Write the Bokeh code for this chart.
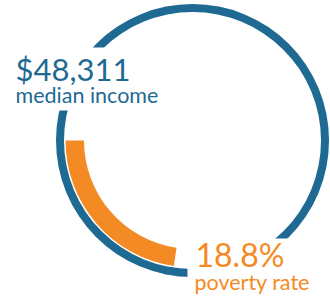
from bokeh.plotting import figure
from bokeh.embed import file_html
from bokeh.resources import INLINE
from bokeh.core.properties import value
import math

# ---- data ----
median_income = 48311
poverty_rate = 18.8          # percent
ring_scale_max = 83.0        # value that corresponds to a full turn of the ring
labels = ["median income", "poverty rate"]

BLUE = "#1e6a93"
ORANGE = "#f48a24"

p = figure(width=330, height=299, x_range=(0, 330), y_range=(299, 0),
           toolbar_location=None, output_backend="svg", min_border=0)
p.axis.visible = False
p.grid.visible = False
p.outline_line_color = None
p.background_fill_color = "white"
p.border_fill_color = "white"

cx, cy = 192, 140

# outer blue ring
p.annulus(x=[cx], y=[cy], inner_radius=128.5, outer_radius=136.5,
          fill_color=BLUE, line_color=None)

# white label backgrounds that interrupt the ring
p.quad(left=[0, 187], right=[166, 330], top=[47, 238], bottom=[110, 299],
       fill_color="white", line_color=None)

# orange poverty arc
start = math.pi
end = start + poverty_rate / ring_scale_max * 2 * math.pi
p.annular_wedge(x=[cx], y=[cy], inner_radius=108.5, outer_radius=127,
                start_angle=[start], end_angle=[end], direction="anticlock",
                fill_color=ORANGE, line_color=None)

font = value("Lato")
p.text(x=[15], y=[68], text=["${:,}".format(median_income)], text_font=font,
       text_font_size="31px", text_color=BLUE, text_baseline="alphabetic")
p.text(x=[15], y=[94], text=[labels[0]], text_font=font,
       text_font_size="21.5px", text_color=BLUE, text_baseline="alphabetic")
p.text(x=[195], y=[254], text=["{}%".format(poverty_rate)], text_font=font,
       text_font_size="32px", text_color=ORANGE, text_baseline="alphabetic")
p.text(x=[194], y=[281], text=[labels[1]], text_font=font,
       text_font_size="21.5px", text_color=ORANGE, text_baseline="alphabetic")

open("out.html", "w").write(file_html(p, INLINE))
